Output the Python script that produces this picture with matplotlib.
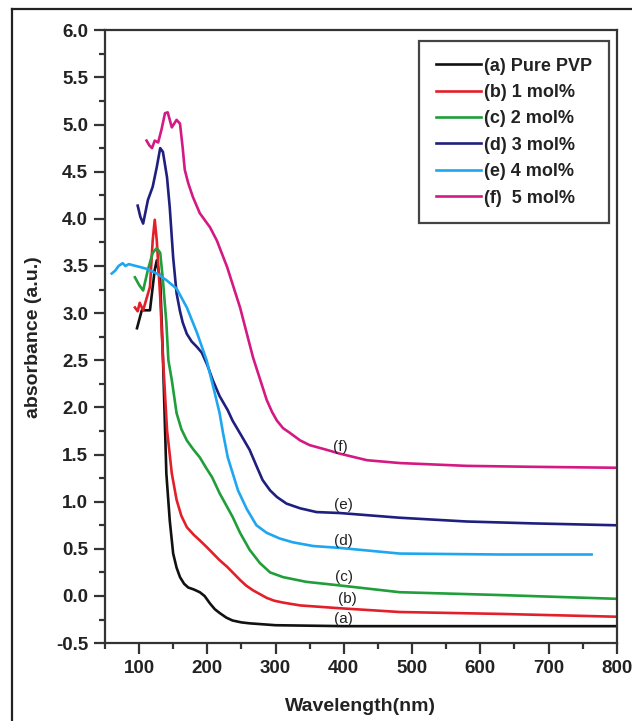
import matplotlib.pyplot as plt
from matplotlib.lines import Line2D
from matplotlib.ticker import MultipleLocator

plt.rcParams['font.family'] = ['Liberation Sans', 'DejaVu Sans']

# Absorbance spectra (wavelength in nm)
wl_a = [97, 104, 116, 123, 126, 131, 135, 140, 145, 150, 155, 160, 166, 172, 180, 189, 196, 204, 211, 218, 228, 237, 250, 262, 300, 400, 500, 600, 700, 800]
ab_a = [2.84, 3.03, 3.03, 3.46, 3.56, 3.35, 2.53, 1.30, 0.80, 0.45, 0.30, 0.20, 0.13, 0.09, 0.07, 0.04, 0.00, -0.08, -0.14, -0.18, -0.23, -0.26, -0.28, -0.29, -0.31, -0.32, -0.32, -0.32, -0.32, -0.32]

wl_b = [94, 98, 101, 106, 116, 120, 123, 126, 131, 135, 141, 148, 155, 162, 170, 180, 189, 199, 218, 229, 248, 257, 267, 277, 287, 298, 311, 336, 394, 482, 629, 800]
ab_b = [3.06, 3.02, 3.11, 3.03, 3.28, 3.77, 3.99, 3.77, 3.17, 2.53, 1.76, 1.30, 1.02, 0.85, 0.73, 0.65, 0.59, 0.52, 0.38, 0.31, 0.17, 0.11, 0.06, 0.02, -0.02, -0.05, -0.07, -0.10, -0.13, -0.17, -0.19, -0.22]

wl_c = [94, 100, 106, 113, 120, 126, 131, 135, 140, 143, 148, 155, 162, 170, 180, 189, 199, 207, 218, 237, 248, 262, 277, 292, 311, 345, 384, 482, 629, 800]
ab_c = [3.38, 3.30, 3.24, 3.46, 3.64, 3.69, 3.64, 3.35, 2.90, 2.50, 2.29, 1.94, 1.77, 1.65, 1.55, 1.47, 1.35, 1.26, 1.09, 0.84, 0.67, 0.49, 0.35, 0.25, 0.20, 0.15, 0.12, 0.04, 0.01, -0.03]

wl_d = [98, 102, 106, 113, 120, 126, 131, 135, 141, 145, 150, 155, 160, 164, 170, 177, 185, 192, 200, 208, 218, 230, 237, 250, 262, 272, 281, 292, 302, 316, 336, 360, 394, 482, 580, 677, 800]
ab_d = [4.14, 4.02, 3.95, 4.20, 4.34, 4.55, 4.75, 4.71, 4.44, 4.12, 3.59, 3.21, 3.02, 2.90, 2.78, 2.70, 2.64, 2.58, 2.45, 2.29, 2.12, 1.97, 1.86, 1.70, 1.55, 1.38, 1.23, 1.12, 1.05, 0.98, 0.93, 0.89, 0.88, 0.83, 0.79, 0.77, 0.75]

wl_e = [60, 65, 70, 76, 80, 85, 90, 101, 111, 126, 140, 155, 170, 185, 199, 211, 218, 223, 230, 236, 245, 258, 272, 287, 306, 325, 355, 394, 482, 629, 763]
ab_e = [3.42, 3.45, 3.50, 3.53, 3.50, 3.52, 3.51, 3.49, 3.47, 3.42, 3.35, 3.26, 3.06, 2.79, 2.50, 2.15, 1.94, 1.73, 1.47, 1.33, 1.12, 0.92, 0.75, 0.67, 0.61, 0.57, 0.53, 0.51, 0.45, 0.44, 0.44]

wl_f = [111, 115, 119, 123, 128, 133, 138, 142, 148, 155, 160, 164, 167, 172, 179, 189, 204, 214, 229, 248, 267, 287, 295, 302, 311, 321, 336, 350, 375, 394, 434, 482, 580, 677, 800]
ab_f = [4.83, 4.78, 4.75, 4.83, 4.81, 4.95, 5.12, 5.13, 4.97, 5.05, 5.01, 4.75, 4.52, 4.38, 4.23, 4.06, 3.91, 3.77, 3.49, 3.06, 2.53, 2.08, 1.95, 1.86, 1.78, 1.73, 1.65, 1.60, 1.55, 1.51, 1.44, 1.41, 1.38, 1.37, 1.36]

labels = ['(a) Pure PVP', '(b) 1 mol%', '(c) 2 mol%', '(d) 3 mol%', '(e) 4 mol%', '(f)  5 mol%']
colors = ['#111111', '#e3202a', '#1f9e3a', '#1f1f7f', '#1fa6f0', '#d41a82']

# curve tags as printed in the figure: (tag, x, y)
tags = [('(a)', 400, -0.24), ('(b)', 405, -0.03), ('(c)', 400, 0.20),
        ('(d)', 400, 0.58), ('(e)', 400, 0.97), ('(f)', 395, 1.58)]

fig = plt.figure(figsize=(6.32, 7.21), dpi=100)
ax = fig.add_axes([0.166, 0.108, 0.810, 0.850])

series = [(wl_a, ab_a), (wl_b, ab_b), (wl_c, ab_c), (wl_d, ab_d), (wl_e, ab_e), (wl_f, ab_f)]
for (x, y), lab, col in zip(series, labels, colors):
    ax.plot(x, y, color=col, lw=1.9, label=lab, solid_joinstyle='round')

for t, x, y in tags:
    ax.text(x, y, t, fontsize=11, ha='center', va='center', color='#222222')

ax.set_xlim(50, 800)
ax.set_ylim(-0.5, 6.0)
ax.xaxis.set_minor_locator(MultipleLocator(50))
ax.yaxis.set_minor_locator(MultipleLocator(0.25))
ax.set_xticks(range(100, 801, 100))
ax.set_yticks([i * 0.5 - 0.5 for i in range(14)])
ax.set_yticklabels([f'{i * 0.5 - 0.5:.1f}' for i in range(14)])

ax.tick_params(which='major', direction='out', length=8, width=1.6, color='#333333',
               labelsize=13.5, pad=4)
ax.tick_params(which='minor', direction='out', length=4.5, width=1.6, color='#333333')
for lab in ax.get_xticklabels() + ax.get_yticklabels():
    lab.set_fontweight('bold')
    lab.set_color('#222222')
for s in ax.spines.values():
    s.set_linewidth(1.6)
    s.set_color('#333333')

ax.set_xlabel('Wavelength(nm)', fontsize=14, fontweight='bold', color='#222222', labelpad=15)
ax.set_ylabel('absorbance (a.u.)', fontsize=14, fontweight='bold', color='#222222', labelpad=10)

leg = ax.legend(loc='upper right', bbox_to_anchor=(0.984, 0.982), borderaxespad=0,
                prop={'weight': 'bold', 'size': 13}, fancybox=False, framealpha=1,
                edgecolor='#444444', handlelength=2.5, handletextpad=0.2,
                labelspacing=0.52, borderpad=0.9)
leg.get_frame().set_linewidth(1.6)
for t in leg.get_texts():
    t.set_color('#222222')

# outer picture border (left and top)
fig.add_artist(Line2D([12 / 632, 12 / 632], [0, 1 - 9 / 721], color='#222222', lw=1.6))
fig.add_artist(Line2D([12 / 632, 1], [1 - 9 / 721, 1 - 9 / 721], color='#222222', lw=1.6))

fig.savefig('out.png', dpi=100)
